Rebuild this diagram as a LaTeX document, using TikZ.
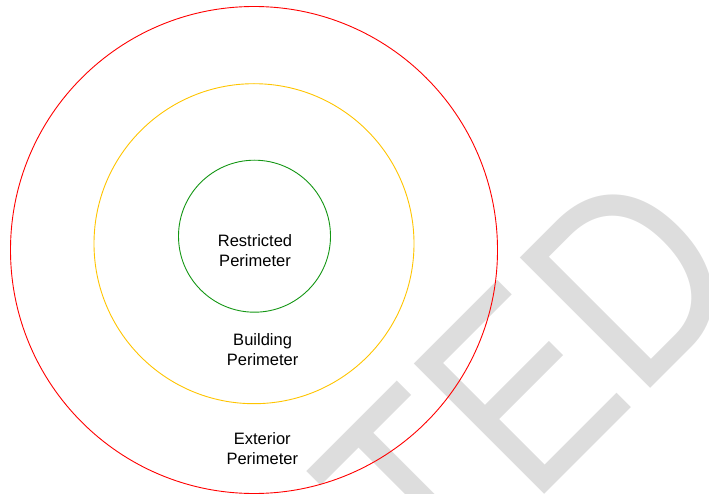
\documentclass[tikz,border=0pt]{standalone}
\usepackage{fontspec}
\setmainfont{Liberation Sans}
\definecolor{wmgray}{RGB}{221,221,221}
\definecolor{ringred}{RGB}{255,0,0}
\definecolor{ringyellow}{RGB}{255,196,0}
\definecolor{ringgreen}{RGB}{20,150,20}
\tikzset{
  ring/.style={line width=0.9pt},
  wm/.style={anchor=base west, inner sep=0pt, outer sep=0pt, rotate=45, xscale=0.845,
    text=wmgray, font=\fontsize{268}{268}\selectfont},
  lbl/.style={anchor=base, align=center, inner sep=0pt,
    font=\fontsize{16.5}{20}\selectfont}
}
\begin{document}
\begin{tikzpicture}[x=1pt,y=-1pt]
\useasboundingbox (0,0) rectangle (709,494);
\begin{scope}
\clip (0,0) rectangle (709,494);
\node[wm] (wmT) at (433.2,605.8) {T};
\node[wm] (wmE) at (531.1,507.9) {E};
\node[wm] (wmD) at (637.9,401.1) {D};
\end{scope}
\draw[ring, ringred] (254,250) circle[radius=243.5pt];
\draw[ring, ringyellow] (254,243.7) circle[radius=160pt];
\draw[ring, ringgreen] (254.5,236.2) circle[radius=76pt];
\node[lbl] (restricted) at (255,266.7) {Restricted\\Perimeter};
\node[lbl] (building) at (262.6,365.5) {Building\\Perimeter};
\node[lbl] (exterior) at (262.3,464.3) {Exterior\\Perimeter};
\end{tikzpicture}
\end{document}
